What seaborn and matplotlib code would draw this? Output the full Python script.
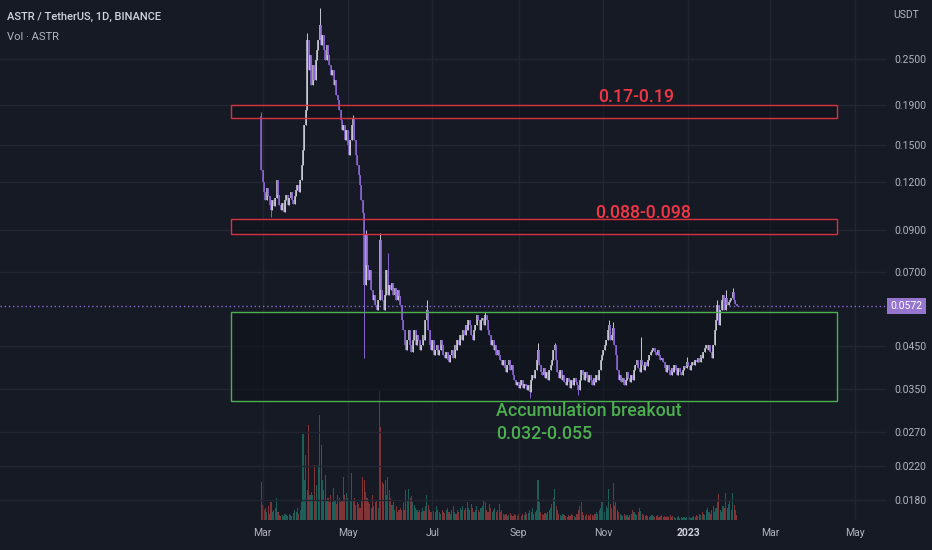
import numpy as np
import pandas as pd
import matplotlib
matplotlib.use("Agg")
import matplotlib.pyplot as plt
import matplotlib.dates as mdates
from matplotlib.patches import Rectangle
from matplotlib.ticker import FixedLocator, NullLocator, FixedFormatter
import seaborn as sns

# ---------------- data ----------------
FIRST_DAY = "2022-02-28"
FIRST_OPEN = 0.178

closes = [
    .1289, .1201, .1131, .1078, .1159, .1105, .1047,
    .1016, .1078, .1041, .1091, .1215, .1111, .1047,
    .1016, .1059, .1004, .1078, .1111, .1047, .1091,
    .1131, .1078, .1053, .1105, .1145, .1179, .1131,
    .1215, .1328, .1453, .1686, .1844, .2800, .2341,
    .2561, .2141, .2412, .2206, .2485, .2638, .2800,
    .3062, .2718, .2885, .2638, .2485, .2718, .2561,
    .2412, .2273, .2341, .2141, .2206, .2017, .1958,
    .1844, .1737, .1637, .1686, .1542, .1637, .1497,
    .1410, .1542, .1686, .1758, .1542, .1410, .1328,
    .1252, .1179, .1078, .0998, .0649, .0875, .0732,
    .0669, .0710, .0630, .0594, .0612, .0576, .0559,
    .0594, .0849, .0630, .0594, .0559, .0612, .0710,
    .0612, .0649, .0630, .0657, .0612, .0638, .0594,
    .0630, .0608, .0576, .0527, .0496, .0454, .0441,
    .0468, .0496, .0454, .0436, .0468, .0496, .0454,
    .0482, .0468, .0441, .0454, .0482, .0468, .0527,
    .0559, .0496, .0454, .0441, .0468, .0428, .0441,
    .0454, .0428, .0441, .0468, .0454, .0428, .0420,
    .0436, .0415, .0410, .0428, .0441, .0420, .0454,
    .0441, .0468, .0454, .0482, .0468, .0496, .0482,
    .0511, .0496, .0527, .0511, .0482, .0468, .0496,
    .0511, .0543, .0527, .0496, .0527, .0533, .0511,
    .0543, .0527, .0496, .0482, .0454, .0468, .0441,
    .0454, .0428, .0441, .0428, .0415, .0403, .0415,
    .0396, .0387, .0403, .0415, .0391, .0403, .0380,
    .0368, .0358, .0364, .0352, .0358, .0368, .0352,
    .0360, .0356, .0347, .0358, .0343, .0368, .0380,
    .0373, .0391, .0415, .0441, .0403, .0387, .0380,
    .0396, .0373, .0387, .0368, .0391, .0403, .0415,
    .0441, .0454, .0415, .0387, .0373, .0391, .0368,
    .0380, .0364, .0358, .0373, .0364, .0352, .0368,
    .0358, .0373, .0364, .0358, .0347, .0368, .0391,
    .0380, .0368, .0387, .0373, .0364, .0380, .0368,
    .0358, .0373, .0364, .0380, .0368, .0391, .0415,
    .0428, .0441, .0454, .0468, .0496, .0511, .0468,
    .0482, .0502, .0454, .0428, .0391, .0368, .0380,
    .0364, .0373, .0358, .0368, .0387, .0373, .0364,
    .0380, .0368, .0391, .0403, .0415, .0396, .0387,
    .0415, .0403, .0391, .0410, .0401, .0415, .0428,
    .0436, .0441, .0446, .0436, .0428, .0441, .0428,
    .0415, .0420, .0410, .0396, .0387, .0403, .0391,
    .0380, .0396, .0387, .0403, .0391, .0380, .0396,
    .0387, .0380, .0391, .0401, .0396, .0410, .0401,
    .0391, .0403, .0410, .0403, .0415, .0410, .0420,
    .0410, .0428, .0420, .0436, .0446, .0454, .0441,
    .0454, .0436, .0420, .0454, .0496, .0527, .0576,
    .0511, .0559, .0594, .0612, .0559, .0601, .0576,
    .0587, .0594, .0601, .0623, .0594, .0580, .0572,
]

# visible wick extremes (day index -> price)
wick_high = {0: .1820, 33: .2920, 42: .3389, 66: .1790, 75: .0902, 85: .0885,
             91: .0786, 119: .0594, 161: .0553, 199: .0460, 211: .0460,
             250: .0527, 253: .0520, 273: .0476, 306: .0423, 328: .0594,
             334: .0630, 339: .0638}
wick_low = {7: .0975, 74: .0420, 193: .0331, 228: .0337}

volume = [
    38, 15, 10, 12, 8, 14, 6, 18, 8, 10,
    12, 22, 8, 5, 4, 5, 4, 6, 5, 4,
    6, 5, 4, 7, 10, 8, 12, 6, 10, 18,
    86, 40, 65, 30, 95, 25, 28, 25, 55, 20,
    35, 55, 105, 75, 40, 30, 45, 20, 22, 18,
    25, 18, 32, 20, 16, 25, 22, 18, 20, 43,
    25, 27, 22, 15, 20, 47, 20, 22, 15, 18,
    16, 12, 20, 43, 40, 28, 22, 18, 16, 12,
    25, 14, 18, 20, 12, 129, 93, 38, 36, 40,
    25, 43, 30, 22, 15, 18, 10, 14, 8, 10,
    12, 10, 18, 10, 30, 20, 31, 22, 24, 18,
    15, 12, 10, 8, 10, 8, 12, 9, 14, 25,
    15, 10, 8, 12, 9, 8, 14, 10, 8, 6,
    10, 8, 7, 10, 12, 8, 6, 10, 14, 8,
    6, 10, 8, 12, 10, 14, 10, 12, 18, 12,
    10, 16, 12, 8, 10, 14, 10, 8, 12, 14,
    20, 18, 10, 8, 16, 12, 8, 10, 12, 8,
    10, 16, 8, 10, 6, 5, 6, 4, 5, 7,
    5, 4, 6, 5, 4, 6, 5, 4, 6, 5,
    8, 6, 7, 10, 8, 12, 6, 8, 10, 40,
    18, 8, 6, 5, 7, 6, 8, 10, 12, 16,
    22, 31, 14, 10, 6, 5, 4, 6, 5, 4,
    3, 5, 4, 6, 5, 4, 3, 6, 10, 14,
    18, 8, 5, 4, 6, 5, 4, 6, 5, 4,
    6, 8, 6, 10, 12, 18, 10, 8, 14, 12,
    31, 16, 12, 37, 14, 18, 10, 8, 6, 5,
    4, 6, 4, 5, 3, 5, 6, 10, 8, 6,
    5, 8, 12, 9, 6, 5, 4, 5, 4, 3,
    4, 5, 4, 3, 4, 5, 3, 4, 5, 3,
    4, 3, 4, 3, 5, 3, 4, 3, 2, 3,
    4, 2, 3, 2, 3, 2, 3, 2, 3, 2,
    3, 4, 3, 5, 4, 6, 5, 8, 6, 5,
    10, 12, 8, 6, 10, 14, 8, 12, 18, 26,
    10, 8, 14, 12, 27, 12, 16, 20, 10, 27,
    15, 10, 5,
]

price_ticks = [0.25, 0.19, 0.15, 0.12, 0.09, 0.07, 0.045, 0.035, 0.027, 0.022, 0.018]
month_ticks = ["2022-03-01", "2022-05-01", "2022-07-01", "2022-09-01",
               "2022-11-01", "2023-01-01", "2023-03-01", "2023-05-01"]
month_labels = ["Mar", "May", "Jul", "Sep", "Nov", "2023", "Mar", "May"]

zone_start, zone_end = "2022-02-06", "2023-04-18"
zone_lows = [0.176, 0.088, 0.0326]
zone_highs = [0.1905, 0.0961, 0.0552]
zone_colors = ["#d9313f", "#d9313f", "#4caf50"]

last_price = 0.0572

# ---------------- styling ----------------
BG = "#161a25"
GRID = "#222632"
UP = "#c8c9d1"
DOWN = "#8a64d2"
VOL_UP = "#1d5e58"
VOL_DOWN = "#813539"
TXT = "#b2b5be"
RED_TXT = "#f23645"
GREEN_TXT = "#4caf50"

sns.set_theme(style="dark", rc={"axes.facecolor": BG, "figure.facecolor": BG,
                                "grid.color": GRID, "axes.edgecolor": BG})
plt.rcParams["font.family"] = ["Roboto", "DejaVu Sans"]

n = len(closes)
dates = pd.date_range(FIRST_DAY, periods=n, freq="D")
xnum = mdates.date2num(dates.to_pydatetime())
closes_a = np.array(closes)
opens_a = np.concatenate([[FIRST_OPEN], closes_a[:-1]])
highs_a = np.maximum(opens_a, closes_a)
lows_a = np.minimum(opens_a, closes_a)
for k, v in wick_high.items():
    highs_a[k] = max(highs_a[k], v)
for k, v in wick_low.items():
    lows_a[k] = min(lows_a[k], v)
up = closes_a >= opens_a

fig = plt.figure(figsize=(9.32, 5.5), dpi=100)
fig.patch.set_facecolor(BG)
rect = [0, 30 / 550, 887 / 932, 520 / 550]
axv = fig.add_axes(rect)
ax = fig.add_axes(rect, sharex=axv)
ax.patch.set_alpha(0)

# x range: 1.3905 px per day, Mar 1 2022 at x=262.7
mar1 = mdates.date2num(pd.Timestamp("2022-03-01").to_pydatetime())
xl = mar1 - 262.7 / 1.3905
xr = xl + 887 / 1.3905

# volume with seaborn
vdf = pd.DataFrame({"date": xnum, "volume": volume,
                    "dir": np.where(up, "up", "down")})
sns.histplot(data=vdf, x="date", weights="volume", hue="dir", discrete=True,
             shrink=0.8, palette={"up": VOL_UP, "down": VOL_DOWN}, alpha=1,
             linewidth=0, legend=False, multiple="layer", ax=axv)
axv.set_ylim(0, 520)
axv.axis("off")

# price axis
ax.set_yscale("log")
ax.set_ylim(0.01598, 0.3557)
ax.set_xlim(xl, xr)

colors = np.where(up, UP, DOWN)
ax.vlines(xnum, lows_a, highs_a, colors=colors, lw=0.7, zorder=3)
ax.vlines(xnum, np.minimum(opens_a, closes_a), np.maximum(opens_a, closes_a),
          colors=colors, lw=1.15, zorder=3)

# zones
zs = mdates.date2num(pd.Timestamp(zone_start).to_pydatetime())
ze = mdates.date2num(pd.Timestamp(zone_end).to_pydatetime())
for lo, hi, c in zip(zone_lows, zone_highs, zone_colors):
    ax.add_patch(Rectangle((zs, lo), ze - zs, hi - lo, facecolor="#0c0f16",
                           alpha=0.45, edgecolor="none", zorder=1))
    ax.add_patch(Rectangle((zs, lo), ze - zs, hi - lo, facecolor="none",
                           edgecolor=c, lw=1.0, zorder=4))

def dnum(s):
    return mdates.date2num(pd.Timestamp(s).to_pydatetime())

zone_font = ["Roboto", "DejaVu Sans"]
zkw = dict(fontsize=12.8, va="center", ha="left", family=zone_font,
           fontweight="medium", zorder=5)
ax.text(dnum("2022-10-28"), 0.1993, "0.17-0.19", color=RED_TXT, **zkw)
ax.text(dnum("2022-10-26"), 0.0998, "0.088-0.098", color=RED_TXT, **zkw)
ax.text(dnum("2022-08-16"), 0.0306, "Accumulation breakout", color=GREEN_TXT, **zkw)
ax.text(dnum("2022-08-16"), 0.0267, "0.032-0.055", color=GREEN_TXT, **zkw)

# last price line and label
ax.axhline(last_price, color="#8a6cd0", ls=(0, (1, 2)), lw=1.0, zorder=2)
ax.text(1.004, last_price, f"{last_price:.4f}", transform=ax.get_yaxis_transform(),
        ha="left", va="center", color="white", fontsize=7.5, clip_on=False,
        bbox=dict(boxstyle="square,pad=0.3", fc="#9575cd", ec="none"), zorder=6)

# ticks / grid
ax.yaxis.tick_right()
ax.yaxis.set_major_locator(FixedLocator(price_ticks))
ax.yaxis.set_minor_locator(NullLocator())
ax.yaxis.set_major_formatter(FixedFormatter([f"{v:.4f}" for v in price_ticks]))
ax.set_xticks([dnum(m) for m in month_ticks])
ax.set_xticklabels(month_labels)
ax.xaxis.set_minor_locator(NullLocator())
ax.tick_params(axis="y", length=0, pad=5, labelcolor=TXT, labelsize=7.5)
ax.tick_params(axis="x", length=0, pad=6, labelcolor=TXT, labelsize=7.5)
for lab in ax.get_xticklabels():
    if lab.get_text() == "2023":
        lab.set_fontweight("bold")
        lab.set_color("#d1d4dc")
ax.grid(True, color=GRID, lw=1.0, zorder=0)
for s in ax.spines.values():
    s.set_visible(False)
ax.set_xlabel("")
ax.set_ylabel("")

fig.text(7 / 932, 1 - 17 / 550, "ASTR / TetherUS, 1D, BINANCE", color="#d1d4dc",
         fontsize=8, va="center", ha="left", fontweight="medium")
fig.text(7 / 932, 1 - 37 / 550, "Vol · ASTR", color=TXT, fontsize=8,
         va="center", ha="left")
fig.text(893 / 932, 1 - 15 / 550, "USDT", color=TXT, fontsize=7.5,
         va="center", ha="left")

fig.savefig("out.png", dpi=100, facecolor=BG)
